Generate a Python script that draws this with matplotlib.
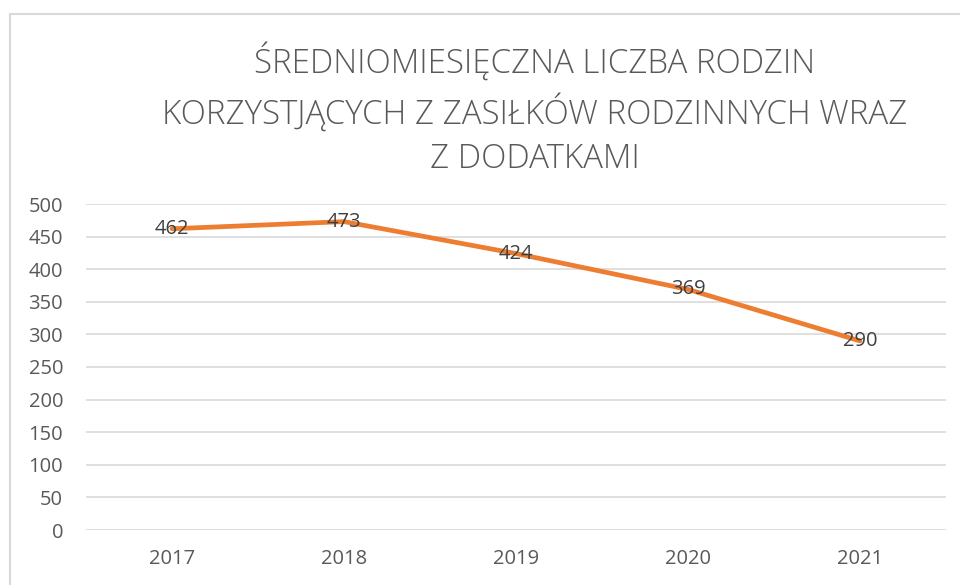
import matplotlib
matplotlib.use("Agg")
import matplotlib.pyplot as plt
from matplotlib.lines import Line2D

OUTPUT_FILE = "out.png"

years = ["2017", "2018", "2019", "2020", "2021"]
families = [462, 473, 424, 369, 290]
y_ticks = [0, 50, 100, 150, 200, 250, 300, 350, 400, 450, 500]
title = "ŚREDNIOMIESIĘCZNA LICZBA RODZIN\nKORZYSTJĄCYCH Z ZASIŁKÓW RODZINNYCH WRAZ\nZ DODATKAMI"

LINE_COLOR = "#ED7D31"
TEXT_COLOR = "#595959"
LABEL_COLOR = "#404040"
GRID_COLOR = "#D9D9D9"

plt.rcParams["font.family"] = ["Open Sans", "DejaVu Sans"]


def main():
    fig = plt.figure(figsize=(9.6, 5.85), dpi=100)
    W, H = 960, 585

    # chart frame (only left and top edges visible in the crop)
    fig.add_artist(Line2D([10 / W, 10 / W], [0, 1 - 14 / H], color=GRID_COLOR, lw=1.5))
    fig.add_artist(Line2D([10 / W, 1], [1 - 14 / H, 1 - 14 / H], color=GRID_COLOR, lw=1.5))

    ax = fig.add_axes([86 / W, 1 - 530 / H, 860 / W, 326 / H])
    x = list(range(len(years)))
    ax.plot(x, families, color=LINE_COLOR, lw=3.4, solid_capstyle="round", zorder=3)
    for xi, v in zip(x, families):
        ax.text(xi, v, str(v), ha="center", va="center", fontsize=14.5,
                color=LABEL_COLOR, zorder=4)

    ax.set_xlim(-0.5, len(years) - 0.5)
    ax.set_ylim(0, 500)
    ax.set_yticks(y_ticks)
    ax.set_xticks(x)
    ax.set_xticklabels(years)
    ax.tick_params(axis="both", length=0, labelsize=14.5, labelcolor=TEXT_COLOR)
    ax.tick_params(axis="y", pad=16.5)
    ax.tick_params(axis="x", pad=14)
    ax.grid(axis="y", color=GRID_COLOR, lw=1.2)
    ax.set_axisbelow(True)
    for s in ax.spines.values():
        s.set_visible(False)

    fig.text(535 / W, 1 - 109 / H, title, ha="center", va="center", fontsize=23.8,
             color=TEXT_COLOR, linespacing=1.42, fontweight="light")

    fig.savefig(OUTPUT_FILE, dpi=100)


if __name__ == "__main__":
    main()
